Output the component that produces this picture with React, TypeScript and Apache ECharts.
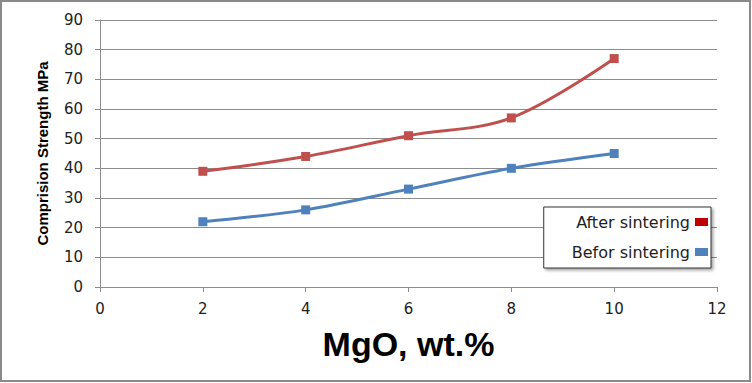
import React, { useEffect, useRef } from "react";
import * as echarts from "echarts";

const xValues = [2, 4, 6, 8, 10];
const afterSintering = [39, 44, 51, 57, 77];
const beforSintering = [22, 26, 33, 40, 45];
const seriesNames = ["After sintering", "Befor sintering"];

const FONT = "'Liberation Sans', Arial, sans-serif";
const WIDE = "'DejaVu Sans', sans-serif";
const NARROW = "'Liberation Sans Narrow', 'Liberation Sans', Arial, sans-serif";

export default function App() {
  const ref = useRef<HTMLDivElement>(null);
  useEffect(() => {
    if (!ref.current) return;
    const chart = echarts.init(ref.current, undefined, { renderer: "svg" });
    chart.setOption({
      animation: false,
      backgroundColor: "#ffffff",
      graphic: [
        {
          type: "rect",
          shape: { x: 1, y: 1, width: 749, height: 380 },
          style: { fill: "none", stroke: "#8a8a8a", lineWidth: 2 },
          silent: true,
        },
      ],
      grid: { left: 100, right: 35, top: 20, bottom: 96 },
      xAxis: {
        type: "value",
        min: 0,
        max: 12,
        interval: 2,
        name: "MgO, wt.%",
        nameLocation: "middle",
        nameGap: 40,
        nameTextStyle: { fontFamily: FONT, fontWeight: "bold", fontSize: 34, color: "#000" },
        axisLine: { show: true, lineStyle: { color: "#8c8c8c", width: 1 } },
        axisTick: { show: true, length: 5, lineStyle: { color: "#8c8c8c" } },
        axisLabel: { fontFamily: WIDE, fontSize: 15, color: "#222", margin: 14 },
        splitLine: { show: false },
      },
      yAxis: {
        type: "value",
        min: 0,
        max: 90,
        interval: 10,
        name: "Comprision Strength MPa",
        nameLocation: "middle",
        nameRotate: 90,
        nameGap: 50,
        nameTextStyle: { fontFamily: NARROW, fontWeight: "bold", fontSize: 15, color: "#000" },
        axisLine: { show: true, lineStyle: { color: "#8c8c8c", width: 1 } },
        axisTick: { show: true, length: 5, lineStyle: { color: "#8c8c8c" } },
        axisLabel: { fontFamily: WIDE, fontSize: 15, color: "#222", margin: 17 },
        splitLine: { show: true, lineStyle: { color: "#8c8c8c", width: 1 } },
      },
      legend: {
        orient: "vertical",
        right: 41,
        top: 207,
        align: "right",
        icon: "rect",
        itemWidth: 13,
        itemHeight: 8,
        itemGap: 14,
        padding: [7, 3, 8, 28],
        borderColor: "#333",
        borderWidth: 1,
        backgroundColor: "#fff",
        shadowColor: "rgba(0,0,0,0.35)",
        shadowBlur: 3,
        shadowOffsetX: 2,
        shadowOffsetY: 2,
        textStyle: { fontFamily: WIDE, fontSize: 16, color: "#222" },
        data: [
          { name: seriesNames[0], itemStyle: { color: "#C00000" } },
          { name: seriesNames[1], itemStyle: { color: "#4F81BD" } },
        ],
      },
      series: [
        {
          name: seriesNames[0],
          type: "line",
          smooth: 0.35,
          data: xValues.map((x, i) => [x, afterSintering[i]]),
          symbol: "rect",
          symbolSize: 9,
          lineStyle: { color: "#C0504D", width: 3 },
          itemStyle: { color: "#C0504D" },
        },
        {
          name: seriesNames[1],
          type: "line",
          smooth: 0.35,
          data: xValues.map((x, i) => [x, beforSintering[i]]),
          symbol: "rect",
          symbolSize: 9,
          lineStyle: { color: "#4F81BD", width: 3 },
          itemStyle: { color: "#4F81BD" },
        },
      ],
    });
    return () => chart.dispose();
  }, []);
  return (
    <div
      ref={ref}
      style={{ position: "fixed", left: 0, top: 0, width: 752, height: 383 }}
    />
  );
}
